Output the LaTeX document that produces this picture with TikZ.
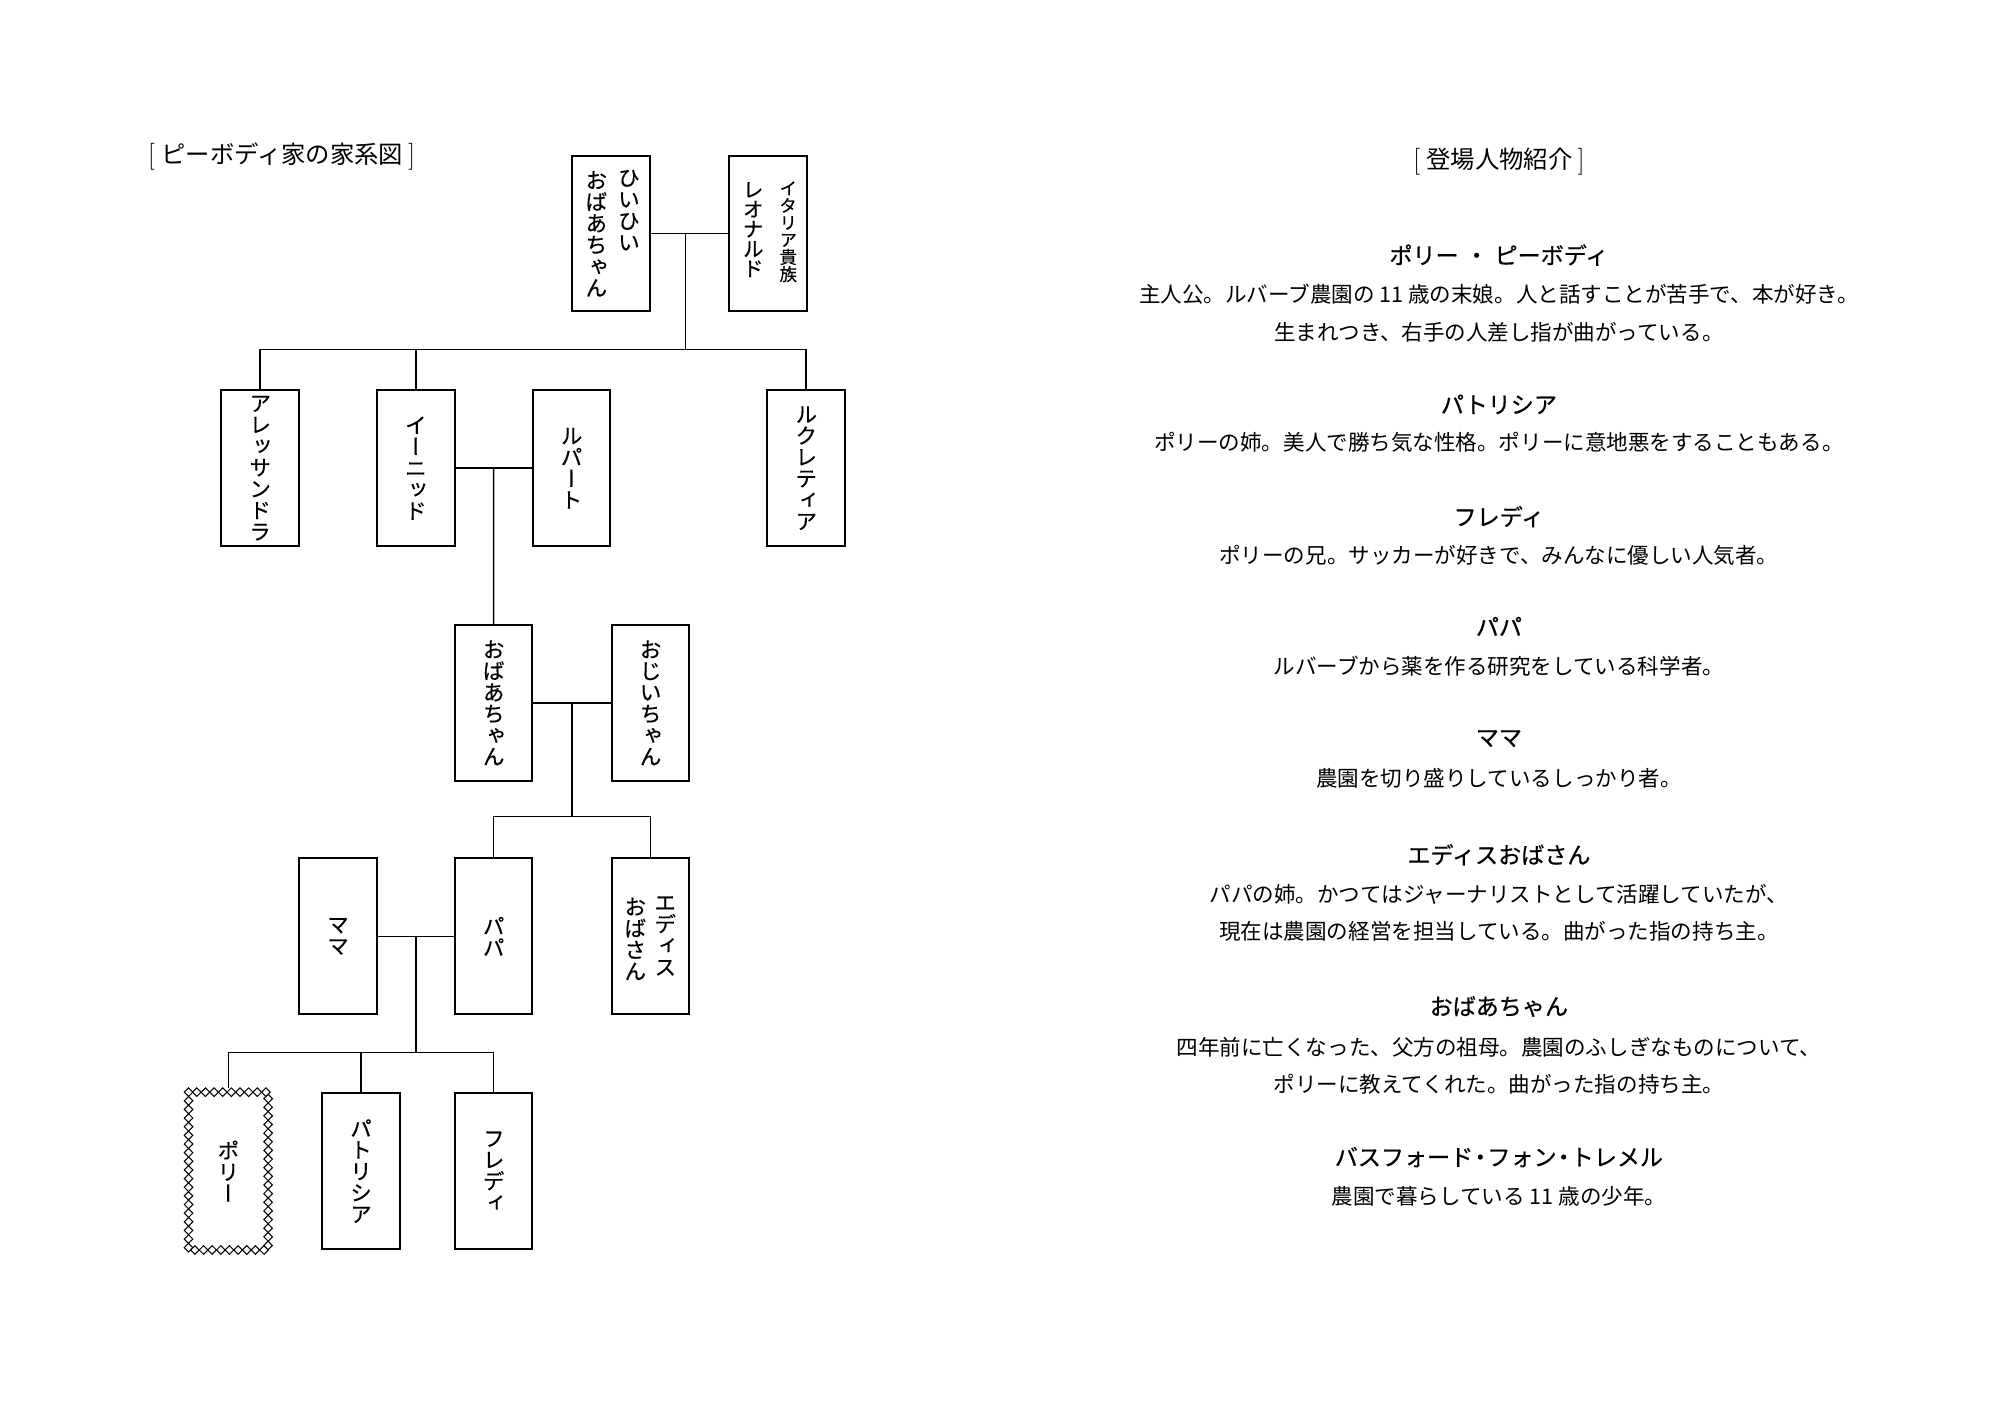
\documentclass[tikz,border=0pt]{standalone}
\usepackage{fontspec}
\usetikzlibrary{calc,decorations.markings}
\newfontfamily\jp{Noto Sans CJK JP}
\newfontfamily\jph[FakeBold=0.6]{Noto Sans CJK JP}
\newfontfamily\jpv[RawFeature=+vert,FakeBold=0.35]{Noto Sans CJK JP}
\newcommand\vf[2]{\jpv\fontsize{#1}{#2}\selectfont\lineskiplimit-30pt\relax}
\newcommand\lb{{\rmfamily\fontsize{21}{22}\selectfont[}\hspace{5pt}}
\newcommand\rb{\hspace{4pt}{\rmfamily\fontsize{21}{22}\selectfont]}}
\tikzset{
  pbox/.style={draw, line width=1.6pt, minimum width=60.5pt, minimum height=121.5pt, inner sep=0pt,
     font=\vf{17}{16.7}, align=center},
  vcol/.style={inner sep=0pt, anchor=north, align=center, font=\vf{17}{16.8}},
  conn/.style={line width=1.25pt},
  diamondchain/.style={decorate, decoration={markings,
     mark=between positions 0 and 1 step 6.74pt with {\draw[line width=0.8pt, fill=white] (-3.37,0)--(0,3.37)--(3.37,0)--(0,-3.37)--cycle;}}},
  ttl/.style={font=\jp\fontsize{19}{21}\selectfont, inner sep=0pt},
  head/.style={font=\jph\fontsize{18}{20}\selectfont, inner sep=0pt},
  body/.style={font=\jp\fontsize{16.8}{29}\selectfont, align=center, inner sep=0pt},
}
\begin{document}
\begin{tikzpicture}[x=0.995pt,y=-0.995pt]
\useasboundingbox[fill=white] (0,0) rectangle (1567.8,1114.6);
% title
\node[ttl, anchor=west] (title) at (116,123) {\lb ピーボディ家の家系図\rb};
% level 1
\node[pbox] (hb) at (479,183) {};
\node[vcol] (hb1) at (493,133) {ひ\\い\\ひ\\い};
\node[vcol] (hb2) at (467.5,134) {お\\ば\\あ\\ち\\ゃ\\ん};
\node[pbox] (leo) at (602,183) {};
\node[vcol, font=\vf{13.6}{13.4}] (leo1) at (617.9,142) {イ\\タ\\リ\\ア\\貴\\族};
\node[vcol, font=\vf{16.3}{15.4}] (leo2) at (590.4,142.5) {レ\\オ\\ナ\\ル\\ド};
% level 2
\node[pbox] (alex) at (204,367) {ア\\レ\\ッ\\サ\\ン\\ド\\ラ};
\node[pbox] (enid) at (326,367) {イ\\ー\\ニ\\ッ\\ド};
\node[pbox] (rup) at (448,367) {ル\\パ\\ー\\ト};
\node[pbox] (luc) at (632,367) {ル\\ク\\レ\\テ\\ィ\\ア};
% level 3
\node[pbox] (gma) at (387,551) {お\\ば\\あ\\ち\\ゃ\\ん};
\node[pbox] (gpa) at (510,551) {お\\じ\\い\\ち\\ゃ\\ん};
% level 4
\node[pbox] (mama) at (265,734) {マ\\マ};
\node[pbox] (papa) at (387,734) {パ\\パ};
\node[pbox] (edith) at (510,734) {};
\node[vcol] (ed1) at (521.5,702.5) {エ\\デ\\ィ\\ス};
\node[vcol] (ed2) at (498,703.5) {お\\ば\\さ\\ん};
% level 5
\node[pbox, draw=none] (polly) at (179,918) {ポ\\リ\\ー};
\node[pbox] (pat) at (283,918) {パ\\ト\\リ\\シ\\ア};
\node[pbox] (fred) at (387,918) {フ\\レ\\デ\\ィ};
\path[diamondchain] (polly.north west) rectangle (polly.south east);
% connectors level1 -> level2
\coordinate (m1) at ($(hb.east)!0.45!(leo.west)$);
\coordinate (b1) at (m1 |- 0,274);
\draw[conn] (hb.east) -- (leo.west);
\draw[conn] (m1) -- (b1);
\draw[conn] (alex.north) -- (alex.north |- b1) -- (luc.north |- b1) -- (luc.north);
\draw[conn] (enid.north) -- (enid.north |- b1);
% enid + rupert -> grandma
\coordinate (m2) at ($(enid.east)!0.5!(rup.west)$);
\draw[conn] (enid.east) -- (rup.west);
\draw[conn] (m2) -- (gma.north);
% grandma + grandpa -> papa, edith
\coordinate (m3) at ($(gma.east)!0.5!(gpa.west)$);
\coordinate (b3) at (m3 |- 0,640);
\draw[conn] (gma.east) -- (gpa.west);
\draw[conn] (m3) -- (b3);
\draw[conn] (papa.north) -- (papa.north |- b3) -- (edith.north |- b3) -- (edith.north);
% mama + papa -> children
\coordinate (m4) at ($(mama.east)!0.5!(papa.west)$);
\coordinate (b4) at (m4 |- 0,825);
\draw[conn] (mama.east) -- (papa.west);
\draw[conn] (m4) -- (b4);
\coordinate (ptop) at ($(polly.north)+(0,-3)$);
\draw[conn] (ptop) -- (ptop |- b4) -- (fred.north |- b4) -- (fred.north);
\draw[conn] (pat.north) -- (pat.north |- b4);
% right side
\def\cx{1175}
\node[ttl] (t2) at (\cx,127) {\lb 登場人物紹介\rb};
\node[head] (h1) at (\cx,200) {ポリー\hspace{5pt}・\hspace{5pt}ピーボディ};
\node[body] (p1) at (\cx,245.5) {主人公。ルバーブ農園の 11 歳の末娘。人と話すことが苦手で、本が好き。\\生まれつき、右手の人差し指が曲がっている。};
\node[head] (h2) at (\cx,317) {パトリシア};
\node[body] (p2) at (\cx,347) {ポリーの姉。美人で勝ち気な性格。ポリーに意地悪をすることもある。};
\node[head] (h3) at (\cx,405) {フレディ};
\node[body] (p3) at (\cx,435) {ポリーの兄。サッカーが好きで、みんなに優しい人気者。};
\node[head] (h4) at (\cx,491) {パパ};
\node[body] (p4) at (\cx,522) {ルバーブから薬を作る研究をしている科学者。};
\node[head] (h5) at (\cx,579) {ママ};
\node[body] (p5) at (\cx,610) {農園を切り盛りしているしっかり者。};
\node[head] (h6) at (\cx,670) {エディスおばさん};
\node[body] (p6) at (\cx,715.5) {パパの姉。かつてはジャーナリストとして活躍していたが、\\現在は農園の経営を担当している。曲がった指の持ち主。};
\node[head] (h7) at (\cx,789) {おばあちゃん};
\node[body] (p7) at (\cx,835.5) {四年前に亡くなった、父方の祖母。農園のふしぎなものについて、\\ポリーに教えてくれた。曲がった指の持ち主。};
\node[head] (h8) at (\cx,907) {バスフォード\makebox[11pt]{・}フォン\makebox[11pt]{・}トレメル};
\node[body] (p8) at (\cx,938) {農園で暮らしている 11 歳の少年。};
\end{tikzpicture}
\end{document}
